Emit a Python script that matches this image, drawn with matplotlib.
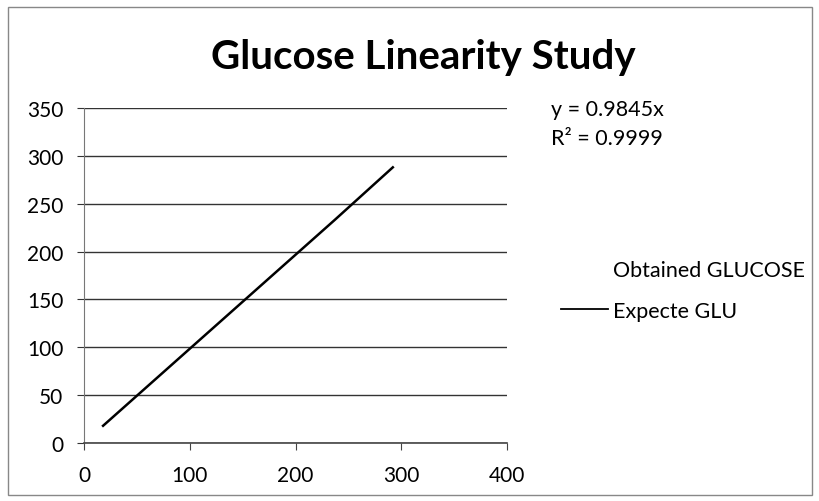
import matplotlib
matplotlib.use("Agg")
import matplotlib.pyplot as plt
from matplotlib.lines import Line2D
from matplotlib.patches import Rectangle

plt.rcParams['font.family'] = ['Lato', 'DejaVu Sans']

title = "Glucose Linearity Study"
expected_x = [18, 73, 128, 183, 237, 292]
expected_y = [18, 72, 126, 180, 233, 288]
x_ticks = [0, 100, 200, 300, 400]
y_ticks = [0, 50, 100, 150, 200, 250, 300, 350]
equation = "y = 0.9845x"
r2 = "R² = 0.9999"
legend_labels = ["Obtained GLUCOSE", "Expecte GLU"]

fig = plt.figure(figsize=(8.19, 5.02), dpi=100)
fig.patch.set_facecolor('white')
fig.add_artist(Rectangle((0.010, 0.012), 0.982, 0.972, transform=fig.transFigure,
                         fill=False, edgecolor='#888888', linewidth=1.0))

ax = fig.add_axes([0.1026, 0.1155, 0.5165, 0.6674])
ax.plot(expected_x, expected_y, color='black', linewidth=1.8)
ax.set_xlim(0, 400)
ax.set_ylim(0, 350)
ax.set_xticks(x_ticks)
ax.set_yticks(y_ticks)
ax.yaxis.grid(True, color='#333333', linewidth=1.0)
ax.set_axisbelow(True)
for s in ['top', 'right']:
    ax.spines[s].set_visible(False)
ax.spines['left'].set_color('#777777')
ax.spines['bottom'].set_color('#444444')
ax.spines['bottom'].set_linewidth(1.2)
ax.tick_params(axis='both', labelsize=15, colors='black', length=5, direction='out')
ax.tick_params(axis='x', color='#444444', pad=11)
ax.tick_params(axis='y', color='#333333', pad=10)

fig.text(0.517, 0.886, title, ha='center', va='center', fontsize=29, fontweight='bold')
fig.text(0.673, 0.781, equation, ha='left', va='center', fontsize=15.5)
fig.text(0.673, 0.723, r2, ha='left', va='center', fontsize=15.5)

handles = [Line2D([], [], color='none'), Line2D([], [], color='black', linewidth=1.3)]
leg = fig.legend(handles, legend_labels, loc='center left', bbox_to_anchor=(0.685, 0.419),
                 frameon=False, fontsize=15.5, handlelength=2.2, handletextpad=0.2,
                 labelspacing=0.95, borderpad=0, borderaxespad=0)

fig.savefig("out.png", dpi=100)
